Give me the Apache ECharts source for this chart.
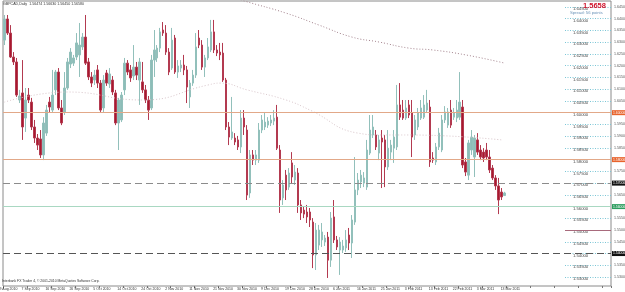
<!DOCTYPE html>
<html>
<head>
<meta charset="utf-8">
<script src="https://cdn.jsdelivr.net/npm/echarts@6/dist/echarts.min.js"></script>
<style>
html, body { margin: 0; padding: 0; background: #fff; }
#chart { width: 625px; height: 292px; }
</style>
</head>
<body>
<div id="chart"></div>
<script>
// date labels under the axis, one every 8 bars
let dateLabels = ['29 Aug 2010', '7 Sep 2010', '16 Sep 2010', '26 Sep 2010', '5 Oct 2010', '14 Oct 2010',
	'24 Oct 2010', '2 Nov 2010', '11 Nov 2010', '21 Nov 2010', '30 Nov 2010', '9 Dec 2010', '19 Dec 2010',
	'28 Dec 2010', '6 Jan 2011', '16 Jan 2011', '25 Jan 2011', '3 Feb 2011', '13 Feb 2011', '22 Feb 2011',
	'3 Mar 2011', '13 Mar 2011'];

// daily bars  [open, close, low, high]
let candles = [
	[1.6309, 1.6399, 1.6288, 1.6416], [1.6399, 1.6339, 1.6331, 1.6416], [1.6339, 1.6237, 1.6233, 1.6373],
	[1.6237, 1.6216, 1.6203, 1.6258], [1.6216, 1.6075, 1.6067, 1.6233], [1.6054, 1.6071, 1.6041, 1.6097],
	[1.6084, 1.5939, 1.5884, 1.6224], [1.5977, 1.6054, 1.5918, 1.6105], [1.6075, 1.6054, 1.6041, 1.6105],
	[1.6045, 1.5939, 1.5926, 1.6063], [1.5939, 1.5892, 1.5871, 1.5969], [1.5892, 1.5862, 1.5841, 1.5909],
	[1.5888, 1.5820, 1.5807, 1.5926], [1.5820, 1.5956, 1.5798, 1.5981], [1.5913, 1.6011, 1.5901, 1.6033],
	[1.6045, 1.6024, 1.6003, 1.6067], [1.6011, 1.6075, 1.6003, 1.6182], [1.6097, 1.6173, 1.6075, 1.6182],
	[1.6173, 1.6020, 1.6011, 1.6190], [1.6020, 1.5956, 1.5947, 1.6054], [1.6003, 1.6105, 1.5990, 1.6173],
	[1.6105, 1.6216, 1.6097, 1.6233], [1.6207, 1.6258, 1.6190, 1.6275], [1.6211, 1.6233, 1.6199, 1.6246],
	[1.6237, 1.6297, 1.6224, 1.6339], [1.6246, 1.6288, 1.6152, 1.6382], [1.6280, 1.6322, 1.6267, 1.6339],
	[1.6322, 1.6211, 1.6203, 1.6416], [1.6216, 1.6152, 1.6139, 1.6233], [1.6152, 1.6126, 1.6109, 1.6173],
	[1.6139, 1.6160, 1.6118, 1.6182], [1.6182, 1.6126, 1.6105, 1.6203], [1.6126, 1.6011, 1.6003, 1.6139],
	[1.6020, 1.6139, 1.6003, 1.6160], [1.6169, 1.6126, 1.6114, 1.6182], [1.6122, 1.6165, 1.6105, 1.6190],
	[1.6139, 1.6088, 1.6075, 1.6156], [1.6084, 1.5956, 1.5947, 1.6097], [1.5956, 1.6054, 1.5841, 1.6063],
	[1.5969, 1.6075, 1.5960, 1.6088], [1.6097, 1.6211, 1.6075, 1.6233], [1.6211, 1.6173, 1.6160, 1.6224],
	[1.6182, 1.6148, 1.6131, 1.6203], [1.6156, 1.6194, 1.6139, 1.6288], [1.6194, 1.6160, 1.6139, 1.6216],
	[1.6139, 1.6216, 1.6033, 1.6233], [1.6131, 1.6097, 1.6084, 1.6216], [1.6097, 1.6054, 1.6041, 1.6118],
	[1.6054, 1.6011, 1.5969, 1.6071], [1.6020, 1.6224, 1.6011, 1.6246], [1.6224, 1.6267, 1.6152, 1.6352],
	[1.6233, 1.6275, 1.6216, 1.6288], [1.6275, 1.6344, 1.6258, 1.6361], [1.6352, 1.6339, 1.6327, 1.6386],
	[1.6339, 1.6258, 1.6246, 1.6373], [1.6258, 1.6173, 1.6160, 1.6275], [1.6190, 1.6309, 1.6182, 1.6361],
	[1.6318, 1.6173, 1.6165, 1.6331], [1.6173, 1.6199, 1.6148, 1.6224], [1.6190, 1.6203, 1.6173, 1.6224],
	[1.6203, 1.6182, 1.6160, 1.6246], [1.6182, 1.6109, 1.6041, 1.6199], [1.6067, 1.6126, 1.6020, 1.6139],
	[1.6126, 1.6160, 1.6114, 1.6182], [1.6160, 1.6280, 1.6148, 1.6339], [1.6318, 1.6288, 1.6275, 1.6352],
	[1.6288, 1.6194, 1.6182, 1.6309], [1.6194, 1.6233, 1.6152, 1.6246], [1.6233, 1.6280, 1.6224, 1.6318],
	[1.6267, 1.6344, 1.6258, 1.6395], [1.6344, 1.6267, 1.6254, 1.6395], [1.6267, 1.6254, 1.6241, 1.6288],
	[1.6258, 1.6246, 1.6224, 1.6297], [1.6254, 1.6139, 1.6131, 1.6297], [1.6139, 1.5939, 1.5926, 1.6148],
	[1.5939, 1.5896, 1.5862, 1.5960], [1.5892, 1.5918, 1.5884, 1.6067], [1.5892, 1.5875, 1.5862, 1.5913],
	[1.5884, 1.5854, 1.5841, 1.5901], [1.5854, 1.5977, 1.5828, 1.6011], [1.5977, 1.5939, 1.5905, 1.6011],
	[1.5926, 1.5649, 1.5628, 1.5947], [1.5658, 1.5820, 1.5637, 1.5841], [1.5820, 1.5798, 1.5777, 1.5841],
	[1.5798, 1.5820, 1.5777, 1.5841], [1.5798, 1.5926, 1.5786, 1.5956], [1.5926, 1.5969, 1.5913, 1.5990],
	[1.5939, 1.5960, 1.5926, 1.5999], [1.5947, 1.5964, 1.5935, 1.5981], [1.5956, 1.5969, 1.5943, 1.5990],
	[1.5964, 1.5977, 1.5947, 1.6011], [1.5981, 1.5849, 1.5841, 1.6033], [1.5841, 1.5628, 1.5573, 1.5862],
	[1.5637, 1.5692, 1.5607, 1.5713], [1.5734, 1.5671, 1.5628, 1.5756], [1.5683, 1.5743, 1.5671, 1.5764],
	[1.5786, 1.5726, 1.5700, 1.5832], [1.5713, 1.5747, 1.5692, 1.5777], [1.5743, 1.5607, 1.5573, 1.5764],
	[1.5607, 1.5573, 1.5543, 1.5628], [1.5585, 1.5568, 1.5551, 1.5602], [1.5577, 1.5556, 1.5530, 1.5607],
	[1.5577, 1.5543, 1.5513, 1.5594], [1.5534, 1.5394, 1.5338, 1.5551], [1.5394, 1.5500, 1.5330, 1.5530],
	[1.5436, 1.5500, 1.5415, 1.5522], [1.5458, 1.5492, 1.5428, 1.5530], [1.5449, 1.5466, 1.5432, 1.5479],
	[1.5470, 1.5372, 1.5296, 1.5492], [1.5372, 1.5551, 1.5343, 1.5577], [1.5556, 1.5458, 1.5445, 1.5628],
	[1.5458, 1.5428, 1.5415, 1.5475], [1.5415, 1.5449, 1.5309, 1.5470], [1.5415, 1.5432, 1.5402, 1.5458],
	[1.5424, 1.5458, 1.5407, 1.5500], [1.5479, 1.5445, 1.5415, 1.5509], [1.5445, 1.5543, 1.5381, 1.5564],
	[1.5534, 1.5671, 1.5522, 1.5811], [1.5671, 1.5713, 1.5649, 1.5743], [1.5705, 1.5734, 1.5679, 1.5756],
	[1.5700, 1.5722, 1.5683, 1.5747], [1.5683, 1.5841, 1.5671, 1.5884], [1.5828, 1.5926, 1.5820, 1.5990],
	[1.5905, 1.5939, 1.5892, 1.5990], [1.5905, 1.5854, 1.5841, 1.5926], [1.5828, 1.5884, 1.5798, 1.5905],
	[1.5892, 1.5875, 1.5679, 1.5926], [1.5884, 1.5769, 1.5683, 1.5905], [1.5769, 1.5849, 1.5756, 1.5926],
	[1.5832, 1.5862, 1.5798, 1.5884], [1.5849, 1.5896, 1.5786, 1.5926], [1.5854, 1.6033, 1.5841, 1.6118],
	[1.6033, 1.5981, 1.5969, 1.6126], [1.6011, 1.5977, 1.5969, 1.6054], [1.5977, 1.6020, 1.5969, 1.6054],
	[1.6033, 1.5990, 1.5977, 1.6054], [1.5999, 1.5896, 1.5811, 1.6054], [1.5905, 1.5969, 1.5884, 1.5990],
	[1.5939, 1.5999, 1.5926, 1.6020], [1.5977, 1.6020, 1.5969, 1.6054], [1.5981, 1.6033, 1.5973, 1.6075],
	[1.6011, 1.6041, 1.5999, 1.6097], [1.6024, 1.5790, 1.5769, 1.6054], [1.5807, 1.5798, 1.5786, 1.5832],
	[1.5790, 1.5854, 1.5777, 1.5871], [1.5854, 1.5913, 1.5841, 1.5935], [1.5841, 1.5969, 1.5832, 1.5990],
	[1.5969, 1.6003, 1.5956, 1.6028], [1.5947, 1.6003, 1.5935, 1.6020], [1.6011, 1.5947, 1.5935, 1.6054],
	[1.5981, 1.5999, 1.5969, 1.6020], [1.5977, 1.6011, 1.5960, 1.6054], [1.5981, 1.6045, 1.5969, 1.6173],
	[1.6024, 1.5777, 1.5764, 1.6054], [1.5790, 1.5747, 1.5730, 1.5807], [1.5734, 1.5871, 1.5713, 1.5884],
	[1.5841, 1.5896, 1.5820, 1.5926], [1.5811, 1.5892, 1.5726, 1.5905], [1.5884, 1.5832, 1.5820, 1.5913],
	[1.5841, 1.5811, 1.5798, 1.5862], [1.5832, 1.5807, 1.5790, 1.5849], [1.5841, 1.5811, 1.5798, 1.5871],
	[1.5811, 1.5756, 1.5743, 1.5841], [1.5764, 1.5722, 1.5713, 1.5777], [1.5722, 1.5688, 1.5671, 1.5734],
	[1.5688, 1.5628, 1.5568, 1.5722], [1.5662, 1.5641, 1.5628, 1.5679], [1.5647, 1.5658, 1.5645, 1.5663]
];

// moving averages  [bar, price]
let maSlow = [[76, 1.6493], [80, 1.6476], [94, 1.6424], [105, 1.6373], [116, 1.6322], [125, 1.6301],
	[135, 1.6275], [143, 1.6267], [154, 1.6246], [167, 1.6211]];
let maFast = [[0, 1.6045], [21, 1.6088], [46, 1.6054], [68, 1.6118], [72, 1.6126], [81, 1.6097],
	[94, 1.6054], [102, 1.6011], [118, 1.5913], [126, 1.5905], [135, 1.5905], [166, 1.5884]];

// horizontal levels
let levelPrices = [1.6003, 1.5811, 1.5683, 1.5568, 1.5450];
let levelColors = ['#e2a888', '#e2a888', '#8c8c8c', '#a9d8c2', '#555555'];
let levelTags = ['#e8632c', '#e8632c', '#111111', '#2e9e60', '#111111'];
let levelDashed = [false, false, true, false, true];
let bidPrice = 1.5658;
let shortLevel = 1.5502;

// 1、init
let myChart = echarts.init(document.getElementById('chart'));

let totalBars = 203;
let barIndex = [];
for (let i = 0; i < totalBars; i++) barIndex.push(i);

let fontName = 'Liberation Sans';

let marks = levelPrices.map(function(p, i) {
	return {
		yAxis: p,
		lineStyle: { color: levelColors[i], type: levelDashed[i] ? [7, 4] : 'solid', width: 1 },
		label: { backgroundColor: levelTags[i] }
	};
});
marks.push({ yAxis: bidPrice, lineStyle: { opacity: 0 }, label: { backgroundColor: '#111111' } });

// 2、option
let option = {
	animation: false,
	backgroundColor: '#ffffff',
	textStyle: { fontFamily: fontName },
	title: [
		{ text: 'GBPCAD,Daily  1.56474 1.56630 1.56450 1.56580', left: 3, top: 2, padding: 0,
			textStyle: { fontSize: 3.6, fontWeight: 'normal', color: '#333' } },
		{ text: 'Interbank FX Trader 4, \u00a9 2001-2010 MetaQuotes Software Corp.', left: 2, top: 280, padding: 0,
			textStyle: { fontSize: 3.4, fontWeight: 'normal', color: '#333' } },
		{ text: '1.5658', left: 583, top: 2, padding: 0,
			textStyle: { fontSize: 7.5, fontWeight: 'bold', color: '#d0142c' } },
		{ text: 'Spread: 56 points', left: 570, top: 11, padding: 0,
			textStyle: { fontSize: 4.2, fontWeight: 'normal', color: '#6a93b8' } }
	],
	grid: [
		{ left: 3, right: 14, top: 1, bottom: 6, show: true, borderColor: '#8a8a8a', borderWidth: 1,
			outerBoundsMode: 'none' },
		{ left: 565, right: 14, top: 7, bottom: 15, outerBoundsMode: 'none' }
	],
	xAxis: [
		{
			type: 'category',
			gridIndex: 0,
			data: barIndex,
			boundaryGap: true,
			axisLine: { show: false },
			axisTick: { show: true, interval: 7, length: 2, lineStyle: { color: '#777' } },
			axisLabel: {
				interval: 7,
				fontSize: 3.5,
				color: '#333',
				margin: 1.5,
				align: 'left',
				padding: [0, 0, 0, -7],
				formatter: function(v, idx) {
					return dateLabels[idx / 8] || '';
				}
			},
			splitLine: { show: false }
		},
		{ type: 'value', gridIndex: 1, min: 0, max: 1, show: false }
	],
	yAxis: [
		{ type: 'value', gridIndex: 0, min: 1.52618, max: 1.64756, show: false },
		{
			type: 'value', gridIndex: 1, min: 1.530, max: 1.645, interval: 0.005,
			position: 'left',
			axisLine: { show: false },
			axisTick: { show: false },
			axisLabel: {
				inside: true, margin: 8, fontSize: 4.2, color: '#444', verticalAlign: 'top',
				formatter: function(v) { return v.toFixed(5); }
			},
			splitLine: { show: true, lineStyle: { color: '#7cc6d6', type: [1, 1.5], width: 1 } }
		},
		{
			type: 'value', gridIndex: 1, min: 1.530, max: 1.645, interval: 0.005,
			position: 'right',
			axisLine: { show: false },
			axisTick: { show: false },
			axisLabel: {
				margin: 3, fontSize: 3.6, color: '#555',
				formatter: function(v) { return v.toFixed(5); }
			},
			splitLine: { show: false }
		}
	],
	series: [
		{
			name: 'GBPCAD',
			type: 'candlestick',
			xAxisIndex: 0,
			yAxisIndex: 0,
			barWidth: 2,
			data: candles,
			itemStyle: {
				color: '#8dbdb8',
				color0: '#a8192e',
				borderColor: '#92c0bb',
				borderColor0: '#b33a50',
				borderWidth: 1
			},
			markLine: {
				silent: true,
				symbol: ['none', 'none'],
				label: {
					position: 'end',
					distance: 1,
					fontSize: 3.4,
					color: '#fff',
					padding: [1, 1],
					formatter: function(p) { return p.value.toFixed(5); }
				},
				data: marks
			}
		},
		{
			name: 'MA slow',
			type: 'line',
			xAxisIndex: 0,
			yAxisIndex: 0,
			data: maSlow,
			smooth: true,
			symbol: 'none',
			lineStyle: { color: '#a4848e', width: 1, type: [1, 2] }
		},
		{
			name: 'MA fast',
			type: 'line',
			xAxisIndex: 0,
			yAxisIndex: 0,
			data: maFast,
			smooth: true,
			symbol: 'none',
			lineStyle: { color: '#d9c6cb', width: 1, type: [1, 2] }
		},
		{
			name: 'level',
			type: 'line',
			xAxisIndex: 1,
			yAxisIndex: 1,
			data: [],
			markLine: {
				silent: true,
				symbol: ['none', 'none'],
				label: { show: false },
				lineStyle: { color: '#a86a7c', type: 'solid', width: 1 },
				data: [{ yAxis: shortLevel }]
			}
		}
	]
};

// 3、set
myChart.setOption(option);

window.addEventListener('resize', function() {
	myChart.resize();
});
</script>
</body>
</html>
